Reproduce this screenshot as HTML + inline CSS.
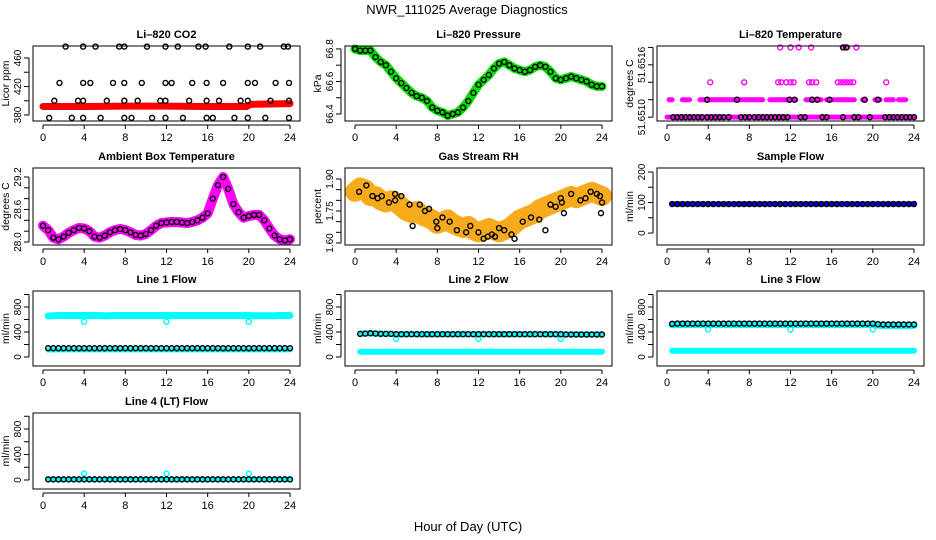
<!DOCTYPE html>
<html><head><meta charset="utf-8"><style>
html,body{margin:0;padding:0;background:#fff;}
svg{display:block;font-family:"Liberation Sans",sans-serif;}
</style></head><body>
<svg id="c" width="936" height="540" viewBox="0 0 936 540">
<text x="467" y="14" font-size="13" text-anchor="middle">NWR_111025  Average Diagnostics</text>
<text x="468" y="531" font-size="13" text-anchor="middle">Hour of Day (UTC)</text>
</svg>
<script>
const xTicks = [0,4,8,12,16,20,24];
const H0 = [0,0.5,1,1.5,2,2.5,3,3.5,4,4.5,5,5.5,6,6.5,7,7.5,8,8.5,9,9.5,10,10.5,11,11.5,12,12.5,13,13.5,14,14.5,15,15.5,16,16.5,17,17.5,18,18.5,19,19.5,20,20.5,21,21.5,22,22.5,23,23.5,24];
const H = [0.5,1,1.5,2,2.5,3,3.5,4,4.5,5,5.5,6,6.5,7,7.5,8,8.5,9,9.5,10,10.5,11,11.5,12,12.5,13,13.5,14,14.5,15,15.5,16,16.5,17,17.5,18,18.5,19,19.5,20,20.5,21,21.5,22,22.5,23,23.5,24];
// CO2
const co2RedX = [0,4,8,12,16,19.8,20.2,24];
const co2RedY = [392,392,392.5,392.5,392,392,395,396];
const co2TopX = [2.2,3.9,5.1,7.4,7.9,10.1,11.9,13.1,15.1,15.8,18.1,19.9,21.1,23.4,23.8];
const co2TopY = [476,476,476,476,476,476,476,476,476,476,476,476,476,476,476];
const co2HiX = [1.6,3.9,4.6,6.8,7.9,9.6,11.9,12.5,14.5,15.9,17.5,19.9,20.6,22.6,23.9];
const co2HiY = [425,425,425,425,425,425,425,425,425,425,425,425,425,425,425];
const co2MidX = [1.1,3.4,3.9,6.2,7.9,9.2,11.4,11.9,14.2,15.9,17.1,19.2,19.9,22.1,23.9];
const co2MidY = [400,400,400,400,400,400,400,400,400,400,400,400,400,400,400];
const co2LowX = [0.6,2.8,3.9,5.6,7.9,8.6,10.6,11.9,13.6,15.9,16.5,18.6,19.9,21.6,23.9];
const co2LowY = [376,376,376,376,376,376,376,376,376,376,376,376,376,376,376];
// Pressure
const pres = [66.80,66.79,66.79,66.79,66.75,66.72,66.70,66.66,66.62,66.59,66.56,66.53,66.51,66.50,66.48,66.44,66.42,66.41,66.39,66.40,66.41,66.44,66.48,66.53,66.58,66.61,66.64,66.68,66.71,66.72,66.70,66.68,66.67,66.66,66.67,66.69,66.70,66.69,66.66,66.62,66.61,66.62,66.63,66.62,66.61,66.60,66.58,66.57,66.57];
// Li-820 temperature
const ltSegLevel1 = [[0.2,0.5],[1.5,2.2],[3.2,7.3],[7.5,9.3],[10,11.9],[12,12.5],[13.5,15],[15.5,16.2],[16.5,18.2],[19,19.3],[20.2,20.7],[21.3,22],[22.5,23.2]];
const ltLevel2X = [4.2,7.5,10.8,11.1,11.6,12,12.3,13.8,14.1,14.5,16.6,16.9,17.2,17.5,17.8,18.1,21.3];
const ltTopX = [11,12,12.8,14,17.2,17.5,18.4];
const ltBlackLow = [0.6,1,1.4,1.8,2.2,2.6,3,3.4,3.9,4.3,4.7,5.1,5.5,6,7.2,7.6,8,8.5,8.9,9.3,9.7,10.1,10.5,10.9,11.3,11.7,13,13.4,15.1,15.5,17.1,18.2,18.6,19.7,21.2,21.6,22,22.4,22.8,23.2,23.6,24];
const ltBlackL1 = [3.9,6.8,11.9,12.4,14.1,14.6,15.8,19.2,20.5];
const ltBlackTop = [17.1,17.4];
const ltLevels = [51.6510,51.65115,51.6513,51.65145,51.6516];
// Ambient
const amb = [28.3,28.22,28.08,28.05,28.1,28.17,28.22,28.26,28.25,28.2,28.1,28.08,28.12,28.18,28.22,28.24,28.22,28.18,28.13,28.12,28.15,28.22,28.3,28.35,28.36,28.37,28.37,28.36,28.35,28.37,28.4,28.45,28.53,28.8,29.05,29.2,28.98,28.7,28.55,28.45,28.48,28.5,28.5,28.4,28.25,28.12,28.05,28.03,28.05];
// RH
const rh = [1.84,1.86,1.85,1.82,1.82,1.8,1.79,1.8,1.79,1.77,1.75,1.74,1.75,1.73,1.72,1.71,1.69,1.7,1.71,1.69,1.68,1.67,1.68,1.66,1.65,1.66,1.67,1.66,1.65,1.66,1.67,1.69,1.71,1.72,1.73,1.74,1.76,1.77,1.78,1.79,1.8,1.81,1.82,1.81,1.82,1.83,1.84,1.83,1.82];
const rhPtX = [0.4,1.1,1.7,2.2,2.6,3.3,3.9,3.9,4.5,5.3,5.6,6.3,6.8,7.2,7.9,8,8.5,9.2,9.9,10.8,11.2,12,12.5,12.9,13.3,13.6,14,14.5,15.2,15.5,16.3,17.1,17.9,18.5,19,19.5,20,20.1,20.3,21,21.9,22.4,22.9,23.5,23.8,23.9,24];
const rhPtY = [1.84,1.87,1.82,1.81,1.82,1.79,1.8,1.83,1.82,1.78,1.68,1.78,1.75,1.76,1.7,1.67,1.72,1.7,1.66,1.65,1.68,1.65,1.62,1.63,1.64,1.63,1.67,1.66,1.64,1.62,1.7,1.72,1.71,1.66,1.78,1.77,1.81,1.79,1.74,1.83,1.8,1.81,1.84,1.83,1.82,1.74,1.79];
// Flows
const sampleBlack = [95,95,95,95,95,95,95,95,95,95,95,95,95,95,95,95,95,95,95,95,95,95,95,95,95,95,95,95,95,95,95,95,95,95,95,95,95,95,95,95,95,95,95,95,95,95,95,95];
const l1Black = [140,140,140,140,140,140,140,140,140,140,140,140,140,140,140,140,140,140,140,140,140,140,140,140,140,140,140,140,140,140,140,140,140,140,140,140,140,140,140,140,140,140,140,140,140,140,140,140];
const l1CyanTop = [655,660,665,665,665,665,665,665,665,665,665,660,660,665,665,665,665,665,665,665,665,665,665,665,665,665,665,665,665,665,665,665,665,665,665,665,665,665,665,665,660,660,660,660,660,665,665,665];
const l1CyanBot = [110,115,115,115,115,115,115,115,115,115,115,115,115,115,115,115,115,115,115,115,115,115,115,115,115,115,115,115,115,115,115,115,115,115,115,115,115,115,115,115,115,115,115,115,115,115,115,115];
const l2Black = [370,375,380,375,370,370,370,365,365,365,365,365,365,365,365,365,365,365,365,365,365,365,365,365,365,365,365,365,365,365,365,365,365,365,365,365,365,365,365,365,360,360,360,360,360,360,360,360];
const l2CyanBot = [85,85,85,85,85,85,85,85,85,85,85,85,85,85,85,85,85,85,85,85,85,85,85,85,85,85,85,85,85,85,85,85,85,85,85,85,85,85,85,85,85,85,85,85,85,85,85,85];
const l3Black = [530,535,535,535,535,535,535,535,535,535,535,535,535,535,535,535,535,535,535,535,535,535,535,535,535,535,535,535,535,535,535,535,535,535,535,535,535,535,535,535,525,520,520,520,520,520,520,520];
const l3CyanTop = [515,520,520,520,520,520,520,520,520,520,520,520,520,520,520,520,520,520,520,520,520,520,520,520,520,520,520,520,520,520,520,520,520,520,520,520,520,520,520,520,510,505,505,505,505,505,505,505];
const l3CyanBot = [100,100,100,100,100,100,100,100,100,100,100,100,100,100,100,100,100,100,100,100,100,100,100,100,100,100,100,100,100,100,100,100,100,100,100,100,100,100,100,100,100,100,100,100,100,100,100,100];
const l4Black = [10,10,10,10,10,10,10,10,10,10,10,10,10,10,10,10,10,10,10,10,10,10,10,10,10,10,10,10,10,10,10,10,10,10,10,10,10,10,10,10,10,10,10,10,10,10,10,10];
const dipX = [4,12,20];
const l1Dip = [565,565,565];
const l2Dip = [290,290,290];
const l3Dip = [440,440,440];
const l4Spike = [100,100,100];

const svg = document.getElementById('c');
const NS = 'http://www.w3.org/2000/svg';
function mk(tag, attrs, parent){ const e=document.createElementNS(NS,tag); for(const k in attrs) e.setAttribute(k,attrs[k]); (parent||svg).appendChild(e); return e; }

const colX = [43,355,667], colW = 247;
const rowBox = [[46,121],[168,245],[291,366],[413,489]];
function makePanel(col,row,title,ylab,dom,yt,ylabels,name){
  const x0=colX[col], top=rowBox[row][0], bot=rowBox[row][1];
  const g = mk('g',{});
  
  
  const sx = v => x0 + v/24*colW;
  const sy = v => bot - (v-dom[0])/(dom[1]-dom[0])*(bot-top);
  const P = {g,sx,sy,top,bot,x0};
  const t = mk('text',{x:x0+colW/2,y:top-8,'font-size':11,'font-weight':'bold','text-anchor':'middle'},g);
  t.textContent = title;
  
  
  P.clip = mk('g',{},g);
  const box = mk('rect',{x:x0-10,y:top,width:colW+20,height:bot-top,fill:'none',stroke:'#000','stroke-width':1},g);
  
  
  const xa = mk('g',{},g);
  
  
  mk('line',{x1:sx(0),x2:sx(24),y1:bot+4,y2:bot+4,stroke:'#000'},xa);
  xTicks.forEach(v=>{ mk('line',{x1:sx(v),x2:sx(v),y1:bot+4,y2:bot+8,stroke:'#000'},xa);
    const l=mk('text',{x:sx(v),y:bot+20,'font-size':11,'text-anchor':'middle'},xa); l.textContent=v; });
  const ya = mk('g',{},g);
  
  
  const lx = x0-14;
  mk('line',{x1:lx,x2:lx,y1:sy(yt[0]),y2:sy(yt[yt.length-1]),stroke:'#000'},ya);
  yt.forEach((v,i)=>{ mk('line',{x1:lx-5,x2:lx,y1:sy(v),y2:sy(v),stroke:'#000'},ya);
    if(ylabels[i]){ const l=mk('text',{x:lx-8,y:sy(v),'font-size':10,'text-anchor':'middle',transform:`rotate(-90 ${lx-8} ${sy(v)})`},ya); l.textContent=ylabels[i]; }});
  const yl = mk('text',{x:x0-34,y:(top+bot)/2,'font-size':10.5,'text-anchor':'middle',transform:`rotate(-90 ${x0-34} ${(top+bot)/2})`},g);
  yl.textContent = ylab;
  
  
  return P;
}
function band(P,xs,ys,color,w,nm){
  const pts = xs.map((x,i)=>P.sx(x)+','+P.sy(ys[i])).join(' ');
  const e = mk('polyline',{points:pts,fill:'none',stroke:color,'stroke-width':w,'stroke-linejoin':'round','stroke-linecap':'round'},P.clip);
  
  
}
function pts(P,xs,ys,color,nm,r){
  const g = mk('g',{},P.clip);
  
  
  xs.forEach((x,i)=>mk('circle',{cx:P.sx(x),cy:P.sy(ys[i]),r:r||2.5,fill:'none',stroke:color,'stroke-width':1.4},g));
}
function seg(P,segs,y,color,w,nm){
  const g = mk('g',{},P.clip);
  
  
  segs.forEach(s=>mk('line',{x1:P.sx(s[0]),x2:P.sx(s[1]),y1:P.sy(y),y2:P.sy(y),stroke:color,'stroke-width':w,'stroke-linecap':'round'},g));
}

// CO2
let P = makePanel(0,0,'Li\u2013820 CO2','Licor ppm',[371.6,476.8],[380,400,420,440,460],['380','','420','','460'],'co2-panel');
band(P,co2RedX,co2RedY,'#ff0000',7,'co2-red-series');
pts(P,co2TopX,co2TopY,'#000','co2-points-476');
pts(P,co2HiX,co2HiY,'#000','co2-points-425');
pts(P,co2MidX,co2MidY,'#000','co2-points-400');
pts(P,co2LowX,co2LowY,'#000','co2-points-376');

// Pressure
P = makePanel(1,0,'Li\u2013820 Pressure','kPa',[66.357,66.818],[66.4,66.5,66.6,66.7,66.8],['66.4','','66.6','','66.8'],'pressure-panel');
band(P,H0,pres,'#00dd00',9,'pressure-green-series');
pts(P,H0,pres,'#000','pressure-points');

// Li-820 temperature
P = makePanel(2,0,'Li\u2013820 Temperature','degrees C',[51.650967,51.651612],ltLevels,['51.6510','','','51.6516',''],'li820-temp-panel');
seg(P,[[0,24]],ltLevels[0],'#ff00ff',5,'li820-temp-magenta-low');
seg(P,ltSegLevel1,ltLevels[1],'#ff00ff',5,'li820-temp-magenta-level1');
pts(P,ltLevel2X,ltLevel2X.map(()=>ltLevels[2]),'#ff00ff','li820-temp-magenta-level2');
pts(P,ltTopX,ltTopX.map(()=>ltLevels[4]),'#ff00ff','li820-temp-magenta-top');
pts(P,ltBlackLow,ltBlackLow.map(()=>ltLevels[0]),'#000','li820-temp-black-low');
pts(P,ltBlackL1,ltBlackL1.map(()=>ltLevels[1]),'#000','li820-temp-black-level1');
pts(P,ltBlackTop,ltBlackTop.map(()=>ltLevels[4]),'#000','li820-temp-black-top');

// Ambient
P = makePanel(0,1,'Ambient Box Temperature','degrees C',[27.945,29.366],[28.0,28.2,28.4,28.6,28.8,29.0,29.2],['28.0','','','28.6','','','29.2'],'ambient-temp-panel');
band(P,H0,amb,'#ff00ff',10,'ambient-magenta-series');
pts(P,H0,amb,'#000','ambient-points');

// RH
P = makePanel(1,1,'Gas Stream RH','percent',[1.5906,1.9516],[1.60,1.65,1.70,1.75,1.80,1.85,1.90],['1.60','','','1.75','','','1.90'],'rh-panel');
band(P,H0,rh,'#f6aa1c',20,'rh-orange-series');
pts(P,rhPtX,rhPtY,'#000','rh-points');

// Sample flow
P = makePanel(2,1,'Sample Flow','ml/min',[-39,213],[0,50,100,150,200],['0','','100','','200'],'sample-flow-panel');
band(P,H,sampleBlack,'#0000ff',5,'sample-flow-blue-series');
pts(P,H,sampleBlack,'#000','sample-flow-points');

const fT=[0,200,400,600,800,1000], fL=['0','','400','','800',''];
// Line 1
P = makePanel(0,2,'Line 1 Flow','ml/min',[-144,1056],fT,fL,'line1-flow-panel');
band(P,H,l1CyanTop,'#00ffff',7,'line1-cyan-upper');
band(P,H,l1CyanBot,'#00ffff',5,'line1-cyan-lower');
pts(P,dipX,l1Dip,'#00ffff','line1-cyan-dips');
pts(P,H,l1Black,'#000','line1-black-points');
// Line 2
P = makePanel(1,2,'Line 2 Flow','ml/min',[-144,1056],fT,fL,'line2-flow-panel');
band(P,H,l2Black,'#00ffff',6,'line2-cyan-upper');
band(P,H,l2CyanBot,'#00ffff',6,'line2-cyan-lower');
pts(P,dipX,l2Dip,'#00ffff','line2-cyan-dips');
pts(P,H,l2Black,'#000','line2-black-points');
// Line 3
P = makePanel(2,2,'Line 3 Flow','ml/min',[-144,1056],fT,fL,'line3-flow-panel');
band(P,H,l3CyanTop,'#00ffff',7,'line3-cyan-upper');
band(P,H,l3CyanBot,'#00ffff',6,'line3-cyan-lower');
pts(P,dipX,l3Dip,'#00ffff','line3-cyan-dips');
pts(P,H,l3Black,'#000','line3-black-points');
// Line 4
P = makePanel(0,3,'Line 4 (LT) Flow','ml/min',[-141,1051],fT,fL,'line4-flow-panel');
band(P,H,l4Black,'#00ffff',5,'line4-cyan-series');
pts(P,dipX,l4Spike,'#00ffff','line4-cyan-spikes');
pts(P,H,l4Black,'#000','line4-black-points');
</script>
</body></html>
